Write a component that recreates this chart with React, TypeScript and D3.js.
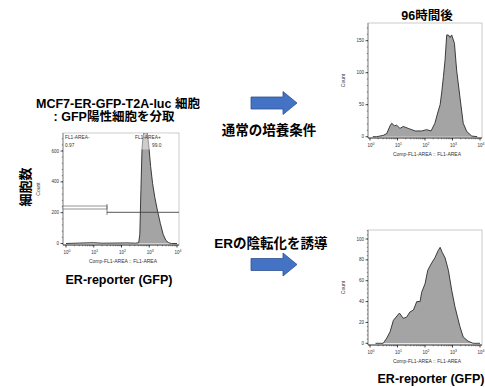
import * as d3 from "d3";

// histogram bins: log10 fluorescence, counts
const sortedLog = [0, 0.5, 1.0, 1.3, 1.8, 2.2, 2.5, 2.62, 2.66, 2.7, 2.74, 2.78, 2.85, 2.92, 2.98, 3.05, 3.12, 3.2, 3.3, 3.4, 3.5, 3.6, 3.7, 3.8, 4.0];
const sortedCounts = [0, 3, 5, 2, 3, 4, 2, 5, 60, 350, 620, 700, 740, 730, 640, 500, 390, 300, 210, 130, 60, 20, 5, 0, 0];

const normalLog = [0.1, 0.24, 0.48, 0.61, 0.73, 0.79, 0.89, 0.97, 1.09, 1.21, 1.39, 1.64, 1.88, 2.06, 2.22, 2.36, 2.46, 2.55, 2.61, 2.67, 2.73, 2.79, 2.85, 2.91, 2.97, 3.07, 3.15, 3.27, 3.39, 3.52, 3.7, 3.9];
const normalCounts = [0, 0, 2, 5, 17, 21, 17, 18, 13, 16, 13, 9, 9, 11, 9, 21, 37, 50, 70, 94, 120, 159, 159, 155, 159, 146, 104, 62, 21, 8, 1, 0];

const erNegLog = [0.2, 0.48, 0.61, 0.73, 0.85, 1.07, 1.21, 1.33, 1.45, 1.58, 1.7, 1.82, 1.88, 2.0, 2.1, 2.22, 2.36, 2.48, 2.55, 2.63, 2.73, 2.85, 2.97, 3.09, 3.27, 3.39, 3.57, 3.75, 4.0];
const erNegCounts = [0, 0, 5, 11, 22, 29, 24, 25, 30, 32, 40, 40, 49, 57, 70, 76, 82, 89, 92, 87, 82, 70, 51, 35, 16, 6, 2, 0, 0];

const decades = [0, 1, 2, 3, 4];
const sortedYTicks = [0, 200, 400, 600];
const normalYTicks = [0, 50, 100, 150];
const erNegYTicks = [0, 20, 40, 60, 80, 100];

const JP = "'Liberation Sans', Arial, 'Noto Sans CJK JP', sans-serif";
const SMALL = "'Liberation Sans', Arial, sans-serif";

type PanelProps = {
  id: string;
  frame: { l: number; r: number; t: number; b: number };
  xRange: [number, number];
  yDomainMax: number;
  yRange: [number, number];
  yTicks: number[];
  yMinor: number;
  logs: number[];
  counts: number[];
  countX: number;
};

function Panel(p: PanelProps) {
  const x = d3.scaleLinear().domain([0, 4]).range(p.xRange);
  const y = d3.scaleLinear().domain([0, p.yDomainMax]).range(p.yRange);
  const pts = p.logs.map((v, i) => [v, p.counts[i]] as [number, number]);
  const area = d3
    .area<[number, number]>()
    .x((d) => x(d[0]))
    .y0(y(0))
    .y1((d) => y(d[1]));
  const line = d3
    .line<[number, number]>()
    .x((d) => x(d[0]))
    .y((d) => y(d[1]));
  const { l, r, t, b } = p.frame;

  const minorX: number[] = [];
  for (let k = 0; k < 4; k++)
    for (let m = 2; m < 10; m++) minorX.push(k + Math.log10(m));
  const minorY = d3.range(0, y.invert(t), p.yMinor);

  return (
    <g>
      <defs>
        <clipPath id={"clip-" + p.id}>
          <rect x={l} y={t} width={r - l} height={b - t} />
        </clipPath>
      </defs>
      <rect x={l} y={t} width={r - l} height={b - t} fill="white" stroke="#b5b5b5" strokeWidth={0.7} />
      <g clipPath={`url(#clip-${p.id})`}>
        <path d={area(pts)!} fill="#a4a4a4" />
        <path d={line(pts)!} fill="none" stroke="#2a2a2a" strokeWidth={0.9} />
      </g>
      {/* y axis */}
      <line x1={l} x2={l} y1={t} y2={b} stroke="#555" strokeWidth={0.6} />
      {minorY.map((v) => (
        <line key={"my" + v} x1={l - 1.2} x2={l} y1={y(v)} y2={y(v)} stroke="#333" strokeWidth={0.5} />
      ))}
      {p.yTicks.map((v) => (
        <g key={"y" + v}>
          <line x1={l - 2.5} x2={l} y1={y(v)} y2={y(v)} stroke="#111" strokeWidth={0.7} />
          <text x={l - 4} y={y(v) + 1.6} fontSize={4.5} fontFamily={SMALL} textAnchor="end" fill="#333">
            {v}
          </text>
        </g>
      ))}
      {/* x axis */}
      <line x1={l} x2={r} y1={b} y2={b} stroke="#111" strokeWidth={0.8} />
      {minorX.map((v) => (
        <line key={"mx" + v} x1={x(v)} x2={x(v)} y1={b} y2={b + 1.3} stroke="#222" strokeWidth={0.5} />
      ))}
      {decades.map((k) => (
        <g key={"x" + k}>
          <line x1={x(k)} x2={x(k)} y1={b} y2={b + 2.5} stroke="#111" strokeWidth={0.8} />
          <text x={x(k) + 1} y={b + 8.5} fontSize={4.5} fontFamily={SMALL} textAnchor="middle" fill="#333">
            10
            <tspan dy={-2} fontSize={3.5}>{k}</tspan>
          </text>
        </g>
      ))}
      <text x={(l + r) / 2 + 2} y={b + 18} fontSize={5} fontFamily={SMALL} textAnchor="middle" fill="#333">
        Comp-FL1-AREA :: FL1-AREA
      </text>
      <text
        transform={`translate(${p.countX},${(t + b) / 2}) rotate(-90)`}
        fontSize={5}
        fontFamily={SMALL}
        textAnchor="middle"
        fill="#333"
      >
        Count
      </text>
    </g>
  );
}

function Arrow({ x0, x1, cy }: { x0: number; x1: number; cy: number }) {
  const headX = x1 - 14;
  const pts = [
    [x0, cy - 6],
    [headX, cy - 6],
    [headX, cy - 11.5],
    [x1, cy],
    [headX, cy + 11.5],
    [headX, cy + 6],
    [x0, cy + 6],
  ];
  return <polygon points={pts.map((q) => q.join(",")).join(" ")} fill="#4472C4" stroke="#2F528F" strokeWidth={0.8} />;
}

export default function App() {
  return (
    <svg width={485} height={387} style={{ position: "absolute", left: 0, top: 0, background: "white" }}>
      {/* left: sorted cells */}
      <text x={118} y={108} fontSize={12.5} fontWeight="bold" fontFamily={JP} textAnchor="middle">
        MCF7-ER-GFP-T2A-luc 細胞
      </text>
      <text x={114} y={121} fontSize={12.5} fontWeight="bold" fontFamily={JP} textAnchor="middle">
        : GFP陽性細胞を分取
      </text>
      <text
        transform="translate(30,187) rotate(-90)"
        fontSize={13}
        fontWeight="bold"
        fontFamily={JP}
        textAnchor="middle"
      >
        細胞数
      </text>
      <Panel
        id="sorted"
        frame={{ l: 63, r: 179, t: 133, b: 245 }}
        xRange={[66, 177]}
        yDomainMax={600}
        yRange={[243.5, 151]}
        yTicks={sortedYTicks}
        yMinor={40}
        logs={sortedLog}
        counts={sortedCounts}
        countX={40}
      />
      {/* light band where the peak runs under the gate label */}
      <rect x={133} y={133.5} width={34} height={16} fill="white" opacity={0.45} />
      {/* gates */}
      <rect x={63} y={206} width={44} height={3} fill="white" stroke="#666" strokeWidth={0.7} />
      <line x1={107} x2={107} y1={204} y2={215} stroke="#666" strokeWidth={0.8} />
      <line x1={107} x2={179} y1={212.3} y2={212.3} stroke="#444" strokeWidth={0.9} />
      <text x={65} y={139} fontSize={4.8} fontFamily={SMALL} fill="#333">FL1-AREA-</text>
      <text x={65} y={146.5} fontSize={4.8} fontFamily={SMALL} fill="#333">0.97</text>
      <text x={135} y={139} fontSize={4.8} fontFamily={SMALL} fill="#333">FL1-AREA+</text>
      <text x={152} y={146.5} fontSize={4.8} fontFamily={SMALL} fill="#333">99.0</text>
      <text x={119} y={284} fontSize={12.5} fontWeight="bold" fontFamily={JP} textAnchor="middle">
        ER-reporter (GFP)
      </text>

      {/* arrows and conditions */}
      <Arrow x0={251} x1={297} cy={103} />
      <text x={269} y={135} fontSize={13.5} fontWeight="bold" fontFamily={JP} textAnchor="middle">
        通常の培養条件
      </text>
      <text x={271} y={248} fontSize={13.5} fontWeight="bold" fontFamily={JP} textAnchor="middle">
        ERの陰転化を誘導
      </text>
      <Arrow x0={251} x1={297} cy={264.5} />

      {/* right: after 96h */}
      <text x={427} y={20} fontSize={12.5} fontWeight="bold" fontFamily={JP} textAnchor="middle">
        96時間後
      </text>
      <Panel
        id="normal"
        frame={{ l: 368, r: 482, t: 23, b: 138 }}
        xRange={[370, 480]}
        yDomainMax={150}
        yRange={[136.7, 40.7]}
        yTicks={normalYTicks}
        yMinor={10}
        logs={normalLog}
        counts={normalCounts}
        countX={345}
      />
      <Panel
        id="erneg"
        frame={{ l: 368, r: 482, t: 230, b: 345 }}
        xRange={[370, 480]}
        yDomainMax={100}
        yRange={[343.3, 239]}
        yTicks={erNegYTicks}
        yMinor={4}
        logs={erNegLog}
        counts={erNegCounts}
        countX={345}
      />
      <text x={431} y={383} fontSize={12.5} fontWeight="bold" fontFamily={JP} textAnchor="middle">
        ER-reporter (GFP)
      </text>
    </svg>
  );
}
